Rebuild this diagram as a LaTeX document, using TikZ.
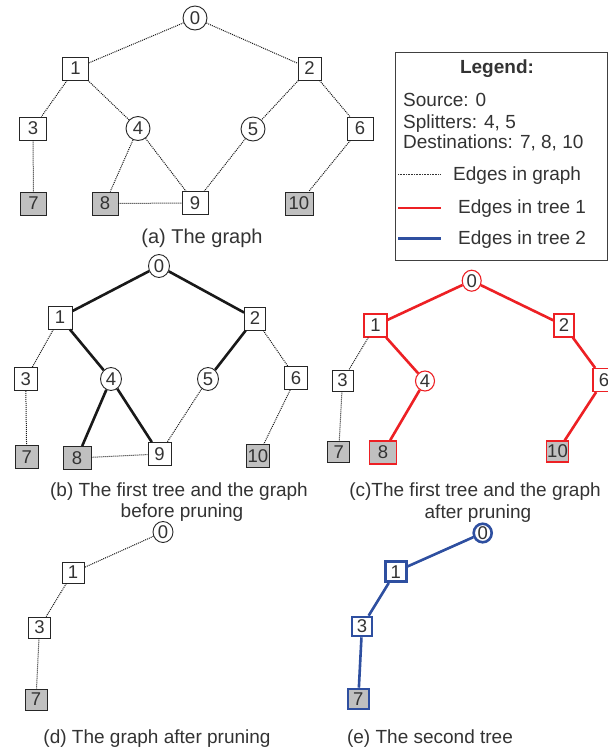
\documentclass[tikz,border=0pt]{standalone}
\usepackage{fontspec}
\setmainfont{Liberation Sans}
\usetikzlibrary{shapes.geometric}
\definecolor{tred}{RGB}{237,32,36}
\definecolor{tblue}{RGB}{46,79,160}
\definecolor{dfill}{RGB}{192,192,192}
\definecolor{txt}{RGB}{51,51,51}
\begin{document}
\begin{tikzpicture}[x=1pt,y=-1pt,
  nd/.style={draw=black!85, line width=0.9pt, text=txt, font=\fontsize{18.5}{18.5}\selectfont, inner sep=1pt, fill=white},
  bx/.style={nd, rectangle, minimum width=23pt, minimum height=23pt},
  dst/.style={bx, fill=dfill},
  cr/.style={nd, ellipse, minimum width=21pt, minimum height=23pt, inner sep=0pt},
  cra/.style={nd, circle, minimum size=24pt, inner sep=0pt},
  ge/.style={draw=black!90, line width=1pt, dash pattern=on 1pt off 1pt},
  te/.style={draw=black!90, line width=2.6pt},
  re/.style={draw=tred, line width=2.6pt},
  be/.style={draw=tblue, line width=2.6pt},
  rnd/.style={draw=tred, line width=1.1pt},
  bnd/.style={draw=tblue, line width=2.6pt},
  captxt/.style={font=\fontsize{19}{23}\selectfont, text=txt, inner sep=0pt, anchor=base},
  lg/.style={font=\fontsize{19}{22}\selectfont, text=txt, inner sep=0pt, anchor=base west},
]
\clip (0,0) rectangle (608,753);
\fill[white] (0,0) rectangle (608,753);

% ---------- (a) ----------
\node[cra] (a0) at (195,18) {0};
\node[bx, minimum width=26pt] (a1) at (75.5,68.5) {1};
\node[bx] (a2) at (309.5,68.5) {2};
\node[bx, minimum width=27pt] (a3) at (33,128.5) {3};
\node[cra] (a4) at (138,128.5) {4};
\node[cra] (a5) at (253,129) {5};
\node[bx, minimum width=26pt] (a6) at (360,128.5) {6};
\node[dst, minimum width=26pt] (a7) at (33.5,203.5) {7};
\node[dst, minimum width=26pt] (a8) at (105,203.5) {8};
\node[bx, minimum width=26pt] (a9) at (195,203) {9};
\node[dst, minimum width=28pt] (a10) at (299,203.5) {10};
\draw[ge] (a0) -- (a1);
\draw[ge] (a0) -- (a2);
\draw[ge] (a1) -- (a3);
\draw[ge] (a1) -- (a4);
\draw[ge] (a2) -- (a5);
\draw[ge] (a2) -- (a6);
\draw[ge] (a3) -- (a7);
\draw[ge] (a4) -- (a8);
\draw[ge] (a4) -- (a9);
\draw[ge] (a5) -- (a9);
\draw[ge] (a8) -- (a9);
\draw[ge] (a6) -- (a10);
\node[captxt, font=\fontsize{20}{23}\selectfont] (capa) at (202,243) {(a) The graph};

% ---------- legend ----------
\node[draw=black!75, line width=0.9pt, minimum width=212pt, minimum height=208pt, inner sep=0pt] (leg) at (501,156) {};
\node[font=\fontsize{19}{22}\selectfont\bfseries, text=txt, inner sep=0pt, anchor=base] (legt) at (497,73.3) {Legend:};
\node[lg] (ls) at (403,106.7) {Source: 0};
\node[lg] (lsp) at (403,128) {Splitters: 4, 5};
\node[lg] (ld) at (403,148.5) {Destinations: 7, 8, 10};
\coordinate (lg1a) at (398,174);
\coordinate (lg1b) at (440,174);
\draw[draw=black!80, line width=0.8pt, dash pattern=on 0.8pt off 0.8pt] (lg1a) -- (lg1b);
\node[lg] (le1) at (453,180) {Edges in graph};
\coordinate (lg2a) at (398,208);
\coordinate (lg2b) at (441,208);
\draw[re] (lg2a) -- (lg2b);
\node[lg] (le2) at (458,213.5) {Edges in tree 1};
\coordinate (lg3a) at (398,238.5);
\coordinate (lg3b) at (441,238.5);
\draw[be] (lg3a) -- (lg3b);
\node[lg] (le3) at (458,244) {Edges in tree 2};

% ---------- (b) ----------
\node[cr] (b0) at (159,266) {0};
\node[bx, minimum width=24pt] (b1) at (60,317.5) {1};
\node[bx, minimum width=21pt] (b2) at (255,318.5) {2};
\node[bx] (b3) at (25.7,379) {3};
\node[cr] (b4) at (111,379) {4};
\node[cr] (b5) at (208,379) {5};
\node[bx] (b6) at (296,378) {6};
\node[dst] (b7) at (26.7,457) {7};
\node[dst, minimum width=28pt] (b8) at (77,458) {8};
\node[bx] (b9) at (159.5,454) {9};
\node[dst] (b10) at (258,456) {10};
\draw[te] (b0) -- (b1);
\draw[te] (b0) -- (b2);
\draw[te] (b1) -- (b4);
\draw[te] (b2) -- (b5);
\draw[te] (b4) -- (b8);
\draw[te] (b4) -- (b9);
\draw[ge] (b1) -- (b3);
\draw[ge] (b3) -- (b7);
\draw[ge] (b2) -- (b6);
\draw[ge] (b6) -- (b10);
\draw[ge] (b8) -- (b9);
\draw[ge] (b5) -- (b9);
\node[captxt] (capb1) at (179,496) {(b) The first tree and the graph};
\node[captxt] (capb2) at (182,517) {before pruning};

% ---------- (c) ----------
\node[cr, rnd, minimum width=19pt, minimum height=21pt] (c0) at (471.7,280.7) {0};
\node[bx, rnd] (c1) at (375.5,325.5) {1};
\node[bx, rnd, minimum width=20pt] (c2) at (564,325.5) {2};
\node[bx, minimum width=21pt, minimum height=21pt] (c3) at (342.5,380.5) {3};
\node[cr, rnd, minimum width=19pt, minimum height=20pt] (c4) at (425,381) {4};
\node[bx, rnd, minimum width=22pt] (c6) at (604,380) {6};
\node[dst, minimum width=22pt, minimum height=21pt] (c7) at (338.7,452) {7};
\node[dst, rnd, fill=dfill, line width=1.5pt, minimum width=27pt] (c8) at (383,452.5) {8};
\node[dst, rnd, fill=dfill, minimum width=21pt, minimum height=21pt] (c10) at (557.5,451.5) {10};
\draw[re] (c0) -- (c1);
\draw[re] (c0) -- (c2);
\draw[re] (c1) -- (c4);
\draw[re] (c4) -- (c8);
\draw[re] (c2) -- (c6);
\draw[re] (c6) -- (c10);
\draw[ge] (c1) -- (c3);
\draw[ge] (c3) -- (c7);
\node[captxt] (capc1) at (475,496.5) {(c)The first tree and the graph};
\node[captxt] (capc2) at (478,518) {after pruning};

% ---------- (d) ----------
\node[cr, minimum width=20pt, minimum height=21pt] (d0) at (163,532) {0};
\node[bx, minimum width=22pt, minimum height=21pt] (d1) at (73,572.5) {1};
\node[bx, minimum width=22pt, minimum height=21pt] (d3) at (39.5,627.5) {3};
\node[dst, minimum width=22pt, minimum height=21pt] (d7) at (36,699.5) {7};
\draw[ge] (d0) -- (d1);
\draw[ge] (d1) -- (d3);
\draw[ge] (d3) -- (d7);
\node[captxt] (capd) at (157,743) {(d) The graph after pruning};

% ---------- (e) ----------
\node[cr, bnd, minimum width=18pt, minimum height=18pt] (e0) at (482.7,533) {0};
\node[bx, bnd, minimum width=21pt, minimum height=20pt] (e1) at (395.7,571.7) {1};
\node[bx, bnd, minimum width=20pt, minimum height=19pt] (e3) at (362,626.5) {3};
\node[dst, bnd, fill=dfill, minimum width=21pt, minimum height=20pt] (e7) at (358.3,699) {7};
\draw[be] (e0) -- (e1);
\draw[be] (e1) -- (e3);
\draw[be] (e3) -- (e7);
\node[captxt] (cape) at (430,743) {(e) The second tree};
\end{tikzpicture}
\end{document}
